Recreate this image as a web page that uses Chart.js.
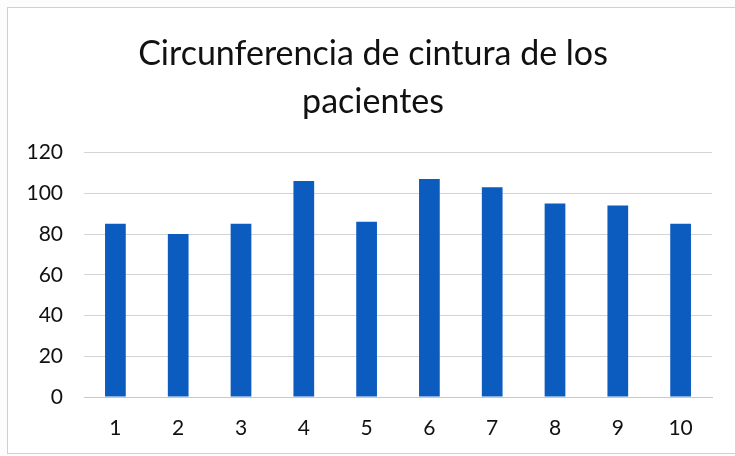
<!DOCTYPE html>
<html>
<head>
<meta charset="utf-8">
<script src="https://cdn.jsdelivr.net/npm/chart.js@4/dist/chart.umd.min.js"></script>
<style>
  html, body { margin: 0; padding: 0; background: #fdfdfd; }
  #wrap { position: relative; width: 735px; height: 456px; overflow: hidden; }
  #frame { position: absolute; left: 7px; top: 7px; width: 740px; height: 445px; border: 1px solid #d0d0d0; background: #ffffff; }
  canvas { position: absolute; left: 0; top: 0; }
</style>
</head>
<body>
<div id="wrap">
  <div id="frame"></div>
  <canvas id="c" width="735" height="456"></canvas>
</div>
<script>
const titleLines = ["Circunferencia de cintura de los", "pacientes"];
const categories = ["1", "2", "3", "4", "5", "6", "7", "8", "9", "10"];
const waistValues = [85, 80, 85, 106, 86, 107, 103, 95, 94, 85];
const yTicks = { min: 0, max: 120, step: 20 };

const FONT = "Lato, 'Open Sans', sans-serif";

new Chart(document.getElementById('c'), {
  type: 'bar',
  data: {
    labels: categories,
    datasets: [{
      label: 'Circunferencia',
      data: waistValues,
      backgroundColor: '#0c5cbf',
      borderWidth: 0,
      barPercentage: 0.33,
      categoryPercentage: 1.0
    }]
  },
  options: {
    responsive: false,
    animation: false,
    layout: { padding: { left: 18, right: 7, top: 8, bottom: 0 } },
    plugins: {
      legend: { display: false },
      tooltip: { enabled: false },
      title: {
        display: true,
        text: titleLines,
        color: '#111111',
        font: { family: FONT, size: 34, weight: 'normal', lineHeight: 1.42 },
        padding: { top: 22, bottom: 26 }
      }
    },
    scales: {
      x: {
        grid: { display: false, drawTicks: false },
        border: { display: true, color: '#c8c8c8', width: 1 },
        ticks: { color: '#111111', font: { family: FONT, size: 21 }, padding: 19 },
        afterFit: (axis) => { axis.height = 59; }
      },
      y: {
        min: yTicks.min,
        max: yTicks.max,
        ticks: { stepSize: yTicks.step, color: '#111111', font: { family: FONT, size: 21 }, padding: 21 },
        grid: { color: '#d4d4d4', drawTicks: false, lineWidth: 1 },
        border: { display: false },
        afterFit: (axis) => { axis.width = 66; }
      },
      spacer: {
        type: 'linear',
        position: 'right',
        min: yTicks.min,
        max: yTicks.max,
        grid: { display: false, drawTicks: false },
        border: { display: false },
        ticks: { display: false },
        afterFit: (axis) => { axis.width = 16; }
      }
    }
  }
});
</script>
</body>
</html>
